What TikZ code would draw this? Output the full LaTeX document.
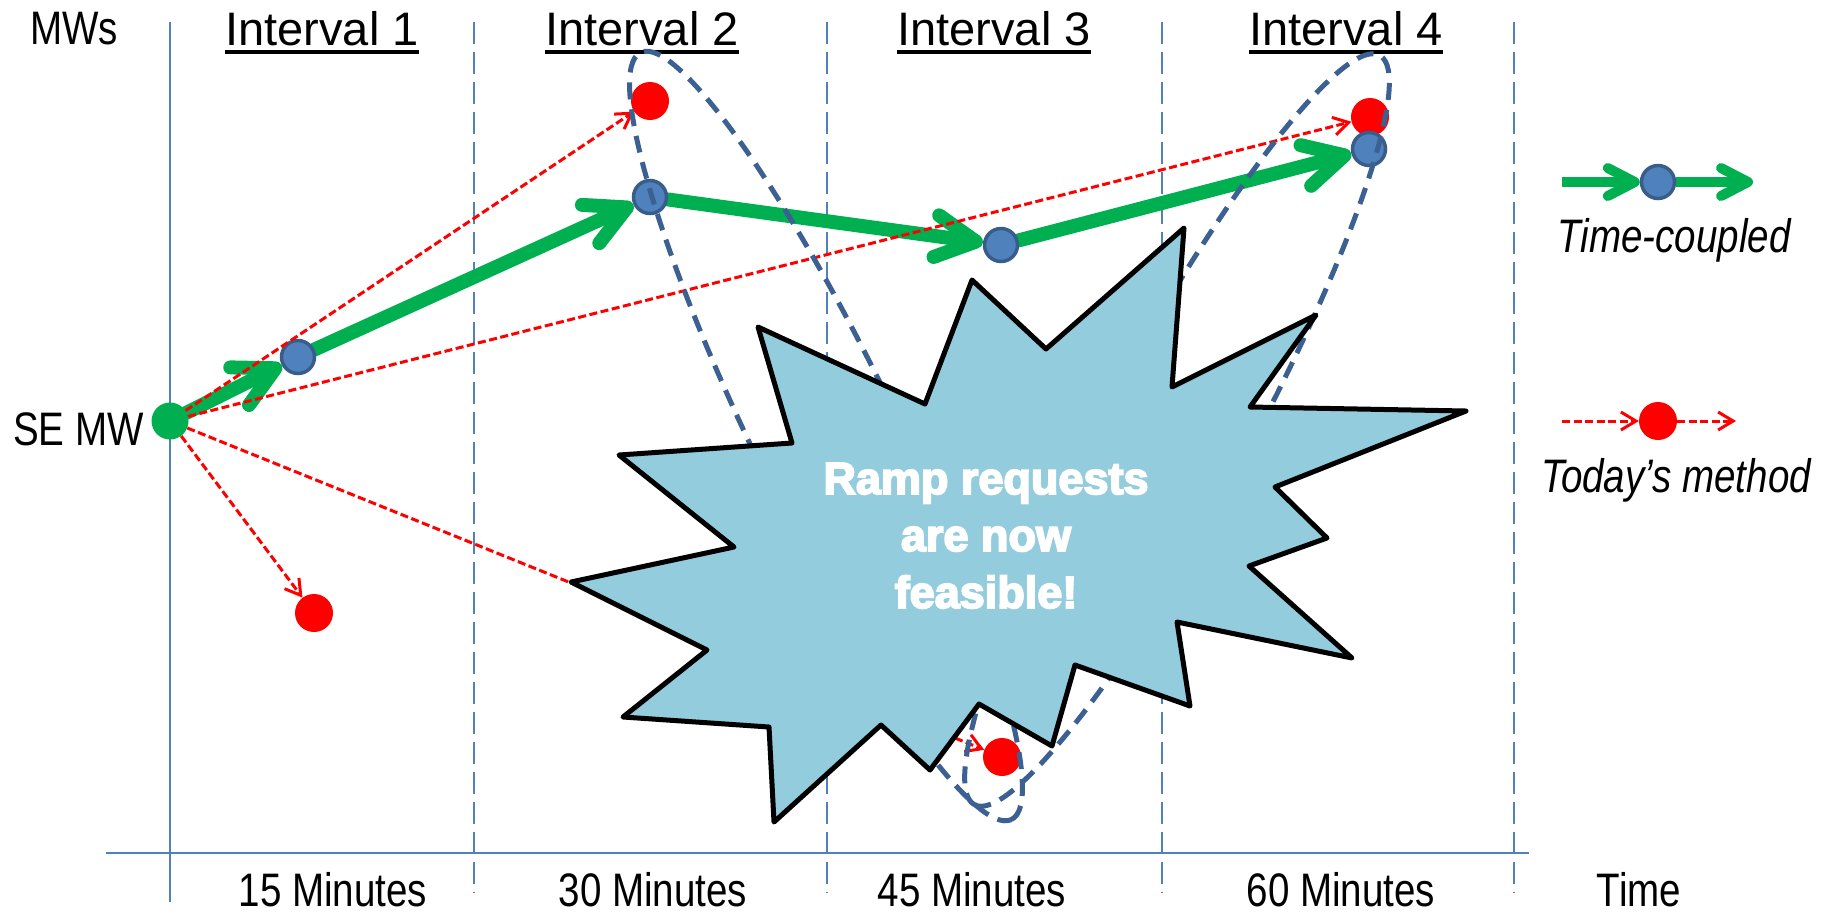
\documentclass[tikz,border=0pt]{standalone}
\usepackage{fontspec}
\setmainfont{Liberation Sans}
\newfontfamily\condensedsans[FakeStretch=0.82]{Liberation Sans}
\newfontfamily\heavysans[FakeBold=4]{Liberation Sans Bold}
\usetikzlibrary{arrows.meta}

\definecolor{gridblue}{RGB}{79,129,189}
\definecolor{rimblue}{RGB}{56,93,138}
\definecolor{ovalblue}{RGB}{59,96,145}
\definecolor{tcgreen}{RGB}{0,176,80}
\definecolor{burstfill}{RGB}{147,205,221}
\definecolor{dotred}{RGB}{255,0,0}

\pgfdeclarelayer{grid}
\pgfdeclarelayer{bg}
\pgfsetlayers{grid,bg,main}

\begin{document}
\begin{tikzpicture}[x=1pt, y=-1pt,
  axisline/.style={gridblue, line width=2.6pt},
  divider/.style={gridblue, line width=2.5pt, dash pattern=on 22pt off 8pt},
  hdr/.style={inner sep=0pt, anchor=base, font=\fontsize{47}{56}\selectfont},
  uline/.style={black, line width=3.5pt},
  axlbl/.style={inner sep=0pt, anchor=base, font=\fontsize{47}{56}\selectfont\condensedsans},
  legtext/.style={inner sep=0pt, anchor=base, font=\fontsize{47}{56}\selectfont\condensedsans\itshape},
  gdot/.style={circle, fill=tcgreen, minimum size=37pt, inner sep=0pt},
  bdot/.style={circle, fill=gridblue, draw=rimblue, line width=3.5pt, minimum size=33pt, inner sep=0pt},
  rdot/.style={circle, fill=dotred, minimum size=38pt, inner sep=0pt},
  coupled/.style={tcgreen, line width=14pt, line cap=round,
    -{Straight Barb[length=40pt, width=42pt, round]}},
  legcoupled/.style={tcgreen, line width=10pt,
    -{Straight Barb[length=27pt, width=28pt, round]}},
  today/.style={dotred, line width=3pt, dash pattern=on 8pt off 3.5pt,
    -{Straight Barb[length=15pt, width=18pt]}},
  oval/.style={ovalblue, line width=5pt, dash pattern=on 17pt off 10pt},
  burst/.style={draw=black, fill=burstfill, line width=5pt, line join=round},
  bursttext/.style={inner sep=0pt, anchor=base, text=white,
    font=\fontsize{45}{57}\selectfont\heavysans}
]
\useasboundingbox (0,0) rectangle (1833,914);

% ---- axes and interval dividers
\begin{pgfonlayer}{grid}
  \coordinate (yTop) at (170,22);
  \coordinate (yBot) at (170,902);
  \coordinate (xL) at (106,853);
  \coordinate (xR) at (1529,853);
  \draw[axisline] (yTop) -- (yBot);
  \draw[axisline] (xL) -- (xR);
  \foreach \x [count=\i] in {474,827,1162,1514}{
    \coordinate (dT\i) at (\x,22);
    \coordinate (dB\i) at (\x,893);
    \draw[divider] (dT\i) -- (dB\i);
  }
\end{pgfonlayer}

% ---- headings
\node[hdr] (int1) at (322,45) {Interval 1};
\node[hdr] (int2) at (642,45) {Interval 2};
\node[hdr] (int3) at (994,45) {Interval 3};
\node[hdr] (int4) at (1346,45) {Interval 4};
\foreach \n in {int1,int2,int3,int4}{
  \draw[uline] ([yshift=-7pt]\n.base west) -- ([yshift=-7pt]\n.base east);
}
\node[axlbl] (mws) at (74,44) {MWs};
\node[axlbl, anchor=base east] (semw) at (144,445) {SE MW};

% ---- time axis labels
\node[axlbl] (t15) at (333,906) {15 Minutes};
\node[axlbl] (t30) at (653,906) {30 Minutes};
\node[axlbl] (t45) at (972,906) {45 Minutes};
\node[axlbl] (t60) at (1341,906) {60 Minutes};
\node[axlbl] (tTime) at (1639,906) {Time};

% ---- operating points
\node[rdot] (r1) at (650,101) {};
\node[rdot] (r0) at (314,613) {};
\node[rdot] (r3) at (1002,757) {};
\node[rdot] (r4) at (1370,117) {};
\node[bdot] (b1) at (298,357) {};
\node[bdot] (b2) at (650,197) {};
\node[bdot] (b3) at (1001,245) {};
\node[bdot] (b4) at (1369,149) {};
\node[gdot] (g0) at (170,421) {};

% ---- time-coupled trajectory
\begin{pgfonlayer}{bg}
  \draw[coupled] (g0) -- (b1);
  \draw[coupled] (b1) -- (b2);
  \draw[coupled] (b2) -- (b3);
  \draw[coupled] (b3) -- (b4);
\end{pgfonlayer}

% ---- today's method: independent jumps from the SE MW
\draw[today] (g0) -- (r1);
\draw[today] (g0) -- (r4);
\draw[today] (g0) -- (r0);
\draw[today] (g0) -- (r3);

% ---- ramp ranges
\draw[oval, shift={(826,436)}, rotate=-64.2] (0,0) ellipse [x radius=426pt, y radius=72pt];
\draw[oval, shift={(1177,430)}, rotate=-118.4] (0,0) ellipse [x radius=426pt, y radius=72pt];

% ---- burst callout
\draw[burst] (774,822) -- (881,725) -- (930,770) -- (979,704) -- (1052,746)
  -- (1075,665) -- (1190,706) -- (1177,622) -- (1352,658) -- (1249,566)
  -- (1327,538) -- (1275,487) -- (1466,411) -- (1250,407) -- (1316,315)
  -- (1172,387) -- (1184,228) -- (1046,349) -- (972,280) -- (925,404)
  -- (758,327) -- (792,443) -- (619,455) -- (734,547) -- (571,582)
  -- (707,650) -- (623,717) -- (769,727) -- cycle;
\node[bursttext] (msgA) at (986,494) {Ramp requests};
\node[bursttext] (msgB) at (986,551) {are now};
\node[bursttext] (msgC) at (986,608) {feasible!};

% ---- legend
\node[bdot] (legB) at (1658,182) {};
\coordinate (legGa) at (1562,182);
\coordinate (legGb) at (1753,182);
\begin{pgfonlayer}{bg}
  \draw[legcoupled] (legGa) -- (legB);
  \draw[legcoupled] (legB) -- (legGb);
\end{pgfonlayer}
\node[legtext] (legTC) at (1674,252) {Time-coupled};

\node[rdot] (legR) at (1658,421) {};
\coordinate (legRa) at (1562,421);
\coordinate (legRb) at (1736,421);
\draw[today] (legRa) -- (legR);
\draw[today] (legR) -- (legRb);
\node[legtext] (legTM) at (1676,492) {Today’s method};
\end{tikzpicture}
\end{document}
